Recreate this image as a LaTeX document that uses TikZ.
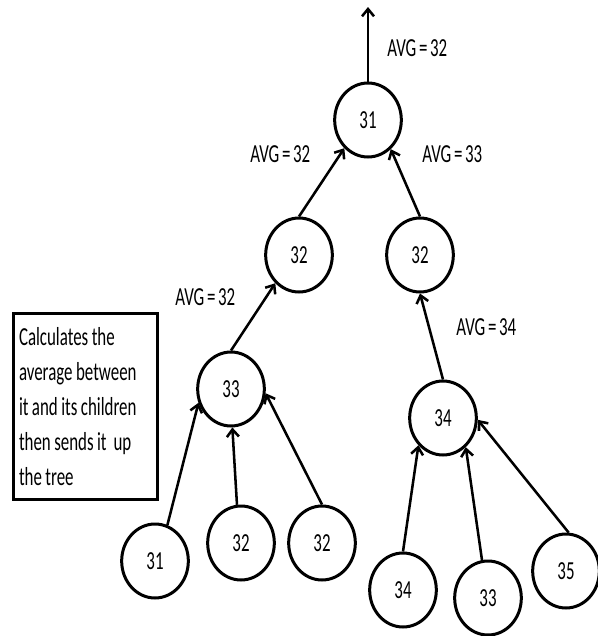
\documentclass[tikz,border=0pt]{standalone}
\usepackage{fontspec}
\newfontfamily\narrowcal[FakeStretch=0.65,WordSpace=0.7]{Carlito}
\usetikzlibrary{shapes.geometric,arrows.meta}

\tikzset{
  vert/.style={ellipse, draw, line width=2.25pt, minimum width=50pt, minimum height=55.5pt, inner sep=0pt},
  sendup/.style={-{Straight Barb[length=5.5pt,width=9pt]}, line width=1.9pt},
  avg/.style={anchor=west, inner sep=0pt},
  notebox/.style={draw, line width=2.5pt, anchor=north west, text width=100pt, inner xsep=4pt, minimum height=139.5pt}
}

\begin{document}
\begin{tikzpicture}[x=0.75pt,y=0.75pt,yscale=-1,xscale=1, font=\narrowcal\fontsize{19.5}{26.25}\selectfont]
	\useasboundingbox (0,0) rectangle (598,636);
	
	% Tree nodes
	\node[vert] (root) at (368,120) {31};
	\node[vert] (left) at (299,255) {32};
	\node[vert] (right) at (420,255) {32};
	\node[vert] (mid33) at (231,389) {33};
	\node[vert] (mid34) at (443,418) {34};
	\node[vert] (leafa) at (155,561) {31};
	\node[vert] (leafb) at (241,543) {32};
	\node[vert] (leafc) at (322,543) {32};
	\node[vert] (leafd) at (403,590) {34};
	\node[vert] (leafe) at (488,598) {33};
	\node[vert] (leaff) at (566,571) {35};
	\coordinate (top) at (368,7);
	
	% Text Node
	\node[notebox] (note) at (12,312) {\parindent=0pt \spaceskip=2.6pt plus 1pt Calculates the\par average between\par it and its children\par then sends it~ up\par the tree\par};
	
	% Averages
	\node[avg] (avgtop) at (387,48) {AVG = 32};
	\node[avg] (avgl) at (250,154) {AVG = 32};
	\node[avg] (avgr) at (422,154) {AVG = 33};
	\node[avg] (avgm) at (175,297) {AVG = 32};
	\node[avg] (avgn) at (456,327) {AVG = 34};
	
	% Edges
	\draw[sendup] (root.north) -- (top);
	\draw[sendup] (left.90) -- (root.230);
	\draw[sendup] (right.90) -- (root.308);
	\draw[sendup] (mid33.90) -- (left.230);
	\draw[sendup] (mid34.90) -- (right.270);
	\draw[sendup] (leafa.71) -- (mid33.203);
	\draw[sendup] (leafb.96) -- (mid33.272);
	\draw[sendup] (leafc.90) -- (mid33.353);
	\draw[sendup] (leafd.90) -- (mid34.228);
	\draw[sendup] (leafe.99) -- (mid34.308);
	\draw[sendup] (leaff.86) -- (mid34.357);
	
\end{tikzpicture}
\end{document}
